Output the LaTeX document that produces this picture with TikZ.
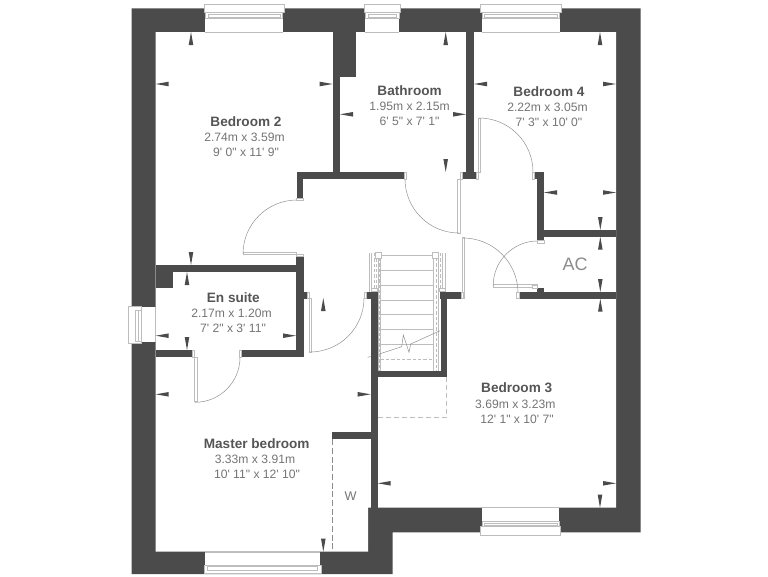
\documentclass[tikz,border=0pt]{standalone}
\usepackage{fontspec}
\newfontfamily\planfont{Liberation Sans}
\definecolor{wallgrey}{HTML}{4B4B4B}
\definecolor{textdark}{HTML}{555555}
\definecolor{textsoft}{HTML}{757575}
\definecolor{linegrey}{HTML}{BDBDBD}
\definecolor{swinggrey}{HTML}{8C8C8C}
\tikzset{
    wall/.style={fill=wallgrey},
    frame/.style={draw=linegrey,fill=white,line width=.5pt},
    swing/.style={draw=swinggrey,line width=.35pt},
    tread/.style={draw=linegrey,line width=.55pt},
    rail/.style={draw=linegrey,line width=.55pt},
    raildash/.style={draw=linegrey,line width=.45pt,dash pattern=on 2.5pt off 1.5pt},
    dimarrow/.style={fill=wallgrey},
    roomname/.style={font=\planfont\fontsize{10.2}{12}\selectfont\bfseries,text=textdark,inner sep=0pt},
    roomsize/.style={font=\planfont\fontsize{9.1}{11}\selectfont,text=textsoft,inner sep=0pt},
    cupboard/.style={font=\planfont\fontsize{9.5}{11}\selectfont,text=textsoft,inner sep=0pt},
}
\begin{document}
\begin{tikzpicture}[x=.75pt,y=-.75pt]
\useasboundingbox (0,0) rectangle (768,576);
% shell
\fill[wall] (131.7,8.3) -- (640.7,8.3) -- (640.7,532.3) -- (392.7,532.3)
    -- (392.7,574) -- (131.7,574) -- cycle;
\fill[white] (155.7,32) -- (616,32) -- (616,507.7) -- (368,507.7)
    -- (368,551.7) -- (155.7,551.7) -- cycle;
% inner walls
\foreach \xa/\ya/\xb/\yb in {
    332.7/32/356/77, 332.7/77/340/172, 296.7/172/404/179, 296.7/179/303/198.3,
    466/32/474/172, 462/172/476.7/179,
    534/172/544/179, 537/179/544/240.7, 544/230/616/236.7,
    519/292/616/298.7, 537/287.7/544/292,
    155.7/265/296/272, 155.7/265/173/288,
    296/256/303.7/357.3, 303.7/292/307.7/298.5,
    155.7/350/192.7/357.3, 241/350/303.7/357.3,
    366/291.7/377.7/298.7, 370.7/298.7/377.7/507.7,
    440/292/461/298.7, 440.7/298.7/446.7/377.3, 370.7/370.7/446.7/377.3,
    332.3/432.3/370.7/439.3}
    \fill[wall] (\xa,\ya) rectangle (\xb,\yb);
% windows along the top
\foreach \xa/\xb in {204/284,364/400.7,480.7/561} {
    \fill[white] (\xa+1.3,8.3) rectangle (\xb-1.3,32);
    \draw[linegrey,line width=.5pt] (\xa+1.3,32) -- (\xb-1.3,32);
    \draw[frame] (\xa,4.3) rectangle (\xb,12.7);
    \draw[frame] (\xa+1.3,12.7) rectangle (\xb-1.3,18.3);
    \draw[frame] (\xa+4,14.7) rectangle (\xb-4,17.3);
}
% window bedroom 3
\fill[white] (481.7,507.7) rectangle (559.3,532.3);
\draw[linegrey,line width=.5pt] (481.7,507.7) -- (559.3,507.7);
\draw[frame] (480.7,526.7) rectangle (560.7,535.7);
\draw[frame] (482,521.7) rectangle (559.3,526.7);
\draw[frame] (484.5,523) rectangle (557,525.3);
% window master bedroom
\fill[white] (205,551.7) rectangle (320,574);
\draw[linegrey,line width=.7pt] (205,552) -- (320,552);
\draw[frame] (204,565) rectangle (321,573);
\draw[frame] (207.5,566.7) rectangle (317,570.5);
% window en suite
\fill[white] (131.7,307) rectangle (155.7,341.7);
\draw[linegrey,line width=.5pt] (155.7,307) -- (155.7,341.7);
\draw[frame] (128,306) rectangle (141.7,343);
\draw[frame] (135,310) rectangle (141.7,341.7);
\draw[linegrey,line width=.4pt] (138.3,310) -- (138.3,341.7);
% doors
\draw[frame] (243,252.4) rectangle (296,254.8);
\draw[swing] (297,200) arc[start angle=270,end angle=180,radius=54];
\draw[frame] (457.8,179) rectangle (460.6,233);
\draw[swing] (405,179) arc[start angle=180,end angle=90,radius=54];
\draw[frame] (478.3,118) rectangle (480.7,172);
\draw[swing] (479,118) arc[start angle=270,end angle=360,radius=54];
\draw[frame] (493.3,284.4) rectangle (537,287);
\draw[swing] (537.7,241) arc[start angle=270,end angle=180,radius=44.5];
\draw[frame] (462,237.4) rectangle (464.3,298.3);
\draw[swing] (463,238) arc[start angle=270,end angle=360,radius=55];
\draw[frame] (194,357.3) rectangle (197,401);
\draw[swing] (240,357.3) arc[start angle=0,end angle=90,radius=45];
\draw[frame] (309,298) rectangle (311.3,352.7);
\draw[swing] (364,298) arc[start angle=0,end angle=90,radius=54];
% door jambs
\foreach \xa/\ya/\xb/\yb in {
    296.7/198.3/303/200.5, 296.7/254/303/256.5, 404/172.5/406/179,
    460/172.5/462/179, 476.7/172.5/478.6/179, 532/172.5/534/179,
    537.5/240.7/544/243, 516.7/292/519/298.5, 192.7/350/194.5/357,
    239/350/241/357, 307.7/292/309.7/298.5, 364/292/366/298.5,
    461/292/463/298.5, 532/285/537/288}
    \draw[frame,line width=.35pt] (\xa,\ya) rectangle (\xb,\yb);
% stairs
\foreach \yy in {255.7,270.7,285.3,300,314.7,329.3,344.3}
    \draw[tread] (380.7,\yy) -- (432.7,\yy);
\draw[raildash] (380.7,359) -- (433,359);
\draw[raildash] (410.7,344.3) -- (433,344.3);
\foreach \xx in {378,380.7,433.3,438.7}
    \draw[rail] (\xx,258) -- (\xx,370.7);
\foreach \xx in {379.4,436}
    \draw[raildash] (\xx,258) -- (\xx,370.7);
\foreach \xx in {369.3,371.6,442.6,445}
    \draw[rail] (\xx,253) -- (\xx,291.7);
\foreach \xx in {373.8,376,440.4}
    \draw[raildash] (\xx,253) -- (\xx,291.7);
\draw[frame] (371.5,288) rectangle (377,291.7);
\draw[frame] (439.5,288) rectangle (445,291.7);
\draw[frame] (375.7,252.3) rectangle (381.7,258.3);
\draw[frame] (432.3,252.3) rectangle (438.3,258.3);
\draw[swing] (367.7,357.3) -- (370.7,356.5);
\draw[swing] (379.3,354) -- (401.7,346.7) -- (403.3,335) -- (409,352.3)
    -- (410.7,344) -- (440,330.7);
% dashed outlines
\draw[linegrey,line width=.45pt,dash pattern=on 4pt off 2pt]
    (378,417.3) -- (446.7,417.3) -- (446.7,377.3);
\draw[swinggrey,line width=.5pt,dash pattern=on 4.5pt off 2pt]
    (332.3,439.3) -- (332.3,551.7);
% measuring marks: tip at the wall, 0 left 90 down 180 right 270 up
\foreach \px/\py/\ang in {
    191/32/270, 155.7/84/0, 332.7/84/180, 191/265/90,
    340/114.3/0, 466/114.3/180, 445.7/32/270, 445.7/172/90,
    474/84/0, 600/32/270, 616/84/180, 544/192.5/0, 616/192.5/180, 600.3/230/90,
    600.3/236.7/270, 600.3/292/90, 600.3/298.7/270,
    377.7/483.3/0, 616/483.3/180, 600/507.7/90,
    187/272/270, 187/350/90, 155.7/335.7/0, 296/335.7/180,
    323.3/298/270,
    155.7/394.3/0, 370.7/394.3/180, 323.3/551.7/90}
    \fill[dimarrow,shift={(\px,\py)},rotate=\ang] (0,0) -- (13,-2.3) -- (13,2.3) -- cycle;
% room labels
\node[roomname] (bed2) at (246,122) {Bedroom 2};
\node[roomsize] (bed2m) at (244.5,137.7) {2.74m x 3.59m};
\node[roomsize] (bed2f) at (246,152) {9' 0" x 11' 9"};
\node[roomname] (bath) at (409.6,90.7) {Bathroom};
\node[roomsize] (bathm) at (409.6,106.7) {1.95m x 2.15m};
\node[roomsize] (bathf) at (409.6,121.3) {6' 5" x 7' 1"};
\node[roomname] (bed4) at (549,91.7) {Bedroom 4};
\node[roomsize] (bed4m) at (547.5,107.3) {2.22m x 3.05m};
\node[roomsize] (bed4f) at (549,122.3) {7' 3" x 10' 0"};
\node[roomname] (ensuite) at (233.3,297.7) {En suite};
\node[roomsize] (ensuitem) at (231.5,313.3) {2.17m x 1.20m};
\node[roomsize] (ensuitef) at (233,328.7) {7' 2" x 3' 11"};
\node[roomname] (master) at (256.7,443.3) {Master bedroom};
\node[roomsize] (masterm) at (255,459) {3.33m x 3.91m};
\node[roomsize] (masterf) at (257,474) {10' 11" x 12' 10"};
\node[roomname] (bed3) at (516.7,388) {Bedroom 3};
\node[roomsize] (bed3m) at (515.3,404) {3.69m x 3.23m};
\node[roomsize] (bed3f) at (517,419) {12' 1" x 10' 7"};
\node[font=\planfont\fontsize{13.5}{15}\selectfont,text=swinggrey,inner sep=0pt] (ac) at (575,264.3) {AC};
\node[cupboard] (ward) at (350.7,496) {W};
\end{tikzpicture}
\end{document}
